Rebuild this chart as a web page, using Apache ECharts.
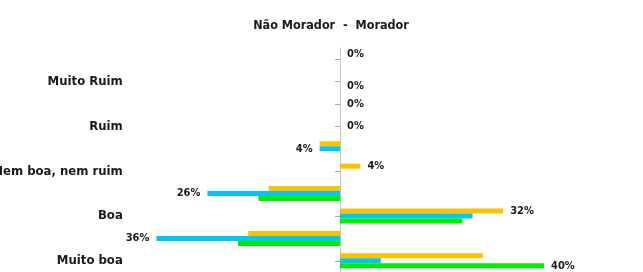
<!DOCTYPE html>
<html>
<head>
<meta charset="utf-8">
<script src="https://cdn.jsdelivr.net/npm/echarts@6/dist/echarts.min.js"></script>
<style>
html,body{margin:0;padding:0;background:#fff;}
#chart{width:643px;height:272px;}
</style>
</head>
<body>
<div id="chart"></div>
<script>
// Categories (top to bottom); each has a "Não Morador" row and a "Morador" row
var categories = ['Muito Ruim', 'Ruim', 'Nem boa, nem ruim', 'Boa', 'Muito boa'];
var groups = ['Não Morador', 'Morador'];
var seriesNames = ['Série 1', 'Série 2', 'Série 3'];
var seriesColors = ['#FFC000', '#00C6F2', '#00EE00'];

// Percent values per category: Não Morador (drawn to the left) and Morador (to the right)
var naoMorador = [
  [0, 0, 4, 14, 18],   // orange
  [0, 0, 4, 26, 36],   // blue
  [0, 0, 0, 16, 20]    // green
];
var morador = [
  [0, 0, 4, 32, 28],   // orange
  [0, 0, 0, 26, 8],    // blue
  [0, 0, 0, 24, 40]    // green
];
// Which series carries the data label on each row (NM, M for each category)
var labelSeries = [0, 2, 1, 1, 1, 0, 1, 0, 1, 2];

var rows = [];
categories.forEach(function (c) {
  groups.forEach(function (g) { rows.push(c + '|' + g); });
});

var fontFam = '"Liberation Sans Narrow", "DejaVu Sans Condensed", "Liberation Sans", sans-serif';

var series = seriesNames.map(function (name, s) {
  var data = [];
  categories.forEach(function (c, i) {
    [-naoMorador[s][i], morador[s][i]].forEach(function (v, k) {
      var r = i * 2 + k;
      var show = labelSeries[r] === s;
      data.push({
        value: v,
        label: {
          show: show,
          position: v < 0 ? 'left' : 'right'
        }
      });
    });
  });
  return {
    name: name,
    type: 'bar',
    yAxisIndex: 0,
    barWidth: 5,
    barGap: '0%',
    itemStyle: { color: seriesColors[s] },
    label: {
      distance: 7,
      fontFamily: fontFam,
      fontWeight: 'bold',
      fontSize: 11,
      color: '#1a1a1a',
      formatter: function (p) { return Math.abs(p.value) + '%'; }
    },
    data: data
  };
});

var chart = echarts.init(document.getElementById('chart'));
chart.setOption({
  animation: false,
  backgroundColor: '#fff',
  title: {
    text: groups[0] + '  -  ' + groups[1],
    left: 326,
    textAlign: 'center',
    top: 14,
    textStyle: { fontFamily: fontFam, fontWeight: 'bold', fontSize: 12.5, color: '#1a1a1a' }
  },
  grid: { left: 125.8, right: 48, top: 48, height: 224, containLabel: false, outerBoundsMode: 'none' },
  xAxis: {
    type: 'value', min: -42, max: 50,
    show: false
  },
  yAxis: [{
    type: 'category',
    inverse: true,
    data: rows,
    position: 'left',
    axisLine: { show: false, onZero: false },
    axisTick: { show: false },
    axisLabel: {
      interval: 0,
      margin: 3,
      fontFamily: fontFam,
      fontWeight: 'bold',
      fontSize: 13,
      color: '#1a1a1a',
      formatter: function (v) {
        var p = v.split('|');
        return p[1] === groups[1] ? p[0] : '';
      }
    },
    splitLine: { show: false }
  }, {
    type: 'category',
    inverse: true,
    data: rows,
    position: 'left',
    axisLine: { show: true, onZero: true, lineStyle: { color: '#c0c0c0', width: 1 } },
    axisTick: { show: true, alignWithLabel: true, interval: 0, length: 5, lineStyle: { color: '#a8a8a8' } },
    axisLabel: { show: false },
    splitLine: { show: false }
  }],
  series: series
});
</script>
</body>
</html>
